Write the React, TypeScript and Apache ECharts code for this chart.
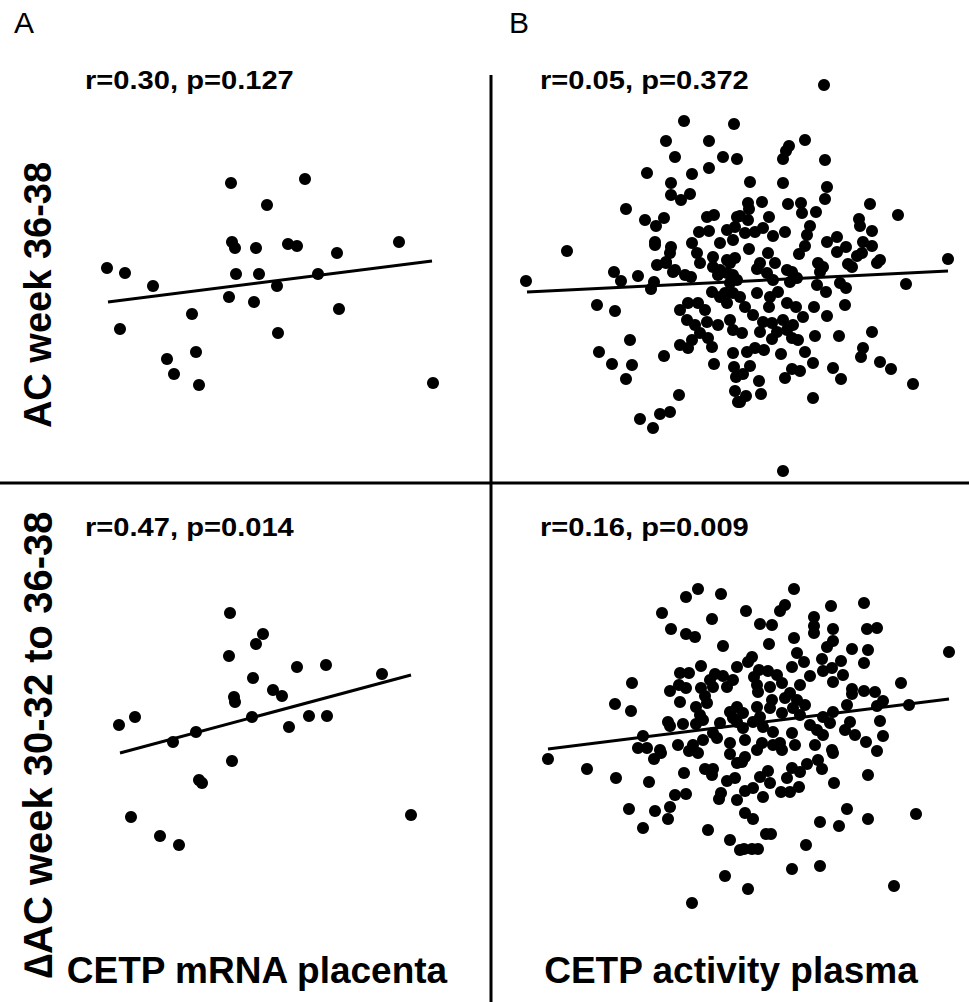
import React, { useEffect, useRef } from "react";
import * as echarts from "echarts";

// Panel A, top: CETP mRNA placenta vs AC week 36-38 (arbitrary units)
const aTopPoints: number[][] = [
  [151, 217], [225, 221], [187, 195], [152, 158], [155, 152], [176, 152], [208, 156], [217, 154],
  [319, 158], [257, 147], [27, 132], [45, 127], [73, 114], [156, 126], [179, 126], [238, 126],
  [197, 114], [149, 103], [174, 98], [259, 91], [112, 86], [40, 71], [198, 67], [116, 48],
  [87, 41], [94, 26], [119, 15], [353, 17],
];
const aTopFit: number[][] = [[28, 98], [352, 139]];

// Panel A, bottom: CETP mRNA placenta vs ΔAC week 30-32 to 36-38
const aBottomPoints: number[][] = [
  [150, 247], [183, 226], [176, 216], [149, 204], [217, 193], [246, 195], [302, 186], [173, 182],
  [193, 170], [202, 164], [154, 163], [155, 158], [39, 135], [55, 143], [172, 143], [229, 144],
  [247, 144], [209, 133], [116, 128], [93, 118], [152, 99], [119, 80], [122, 77], [51, 43],
  [80, 24], [99, 15], [331, 45],
];
const aBottomFit: number[][] = [[40, 107], [331, 185]];

// Panel B, top: CETP activity plasma vs AC week 36-38
const bTopPoints: number[][] = [
  [184, 359], [166, 339], [209, 339], [175, 323], [223, 323], [237, 321], [234, 356], [147, 307],
  [192, 306], [209, 312], [171, 297], [171, 285], [181, 280], [190, 286], [126, 271], [145, 260],
  [156, 254], [164, 262], [207, 263], [214, 265], [67, 229], [199, 248], [209, 249], [155, 238],
  [155, 235], [171, 233], [170, 227], [192, 237], [166, 218], [157, 215], [114, 208], [138, 204],
  [26, 199], [197, 227], [200, 217], [213, 223], [220, 237], [227, 250], [233, 240], [237, 263],
  [220, 210], [230, 217], [173, 208], [185, 205],
  [324, 395], [305, 340], [289, 334], [286, 329], [283, 321], [325, 320], [250, 298], [283, 297],
  [327, 293], [325, 281], [248, 277], [262, 278], [288, 276], [301, 277], [302, 267], [316, 268],
  [370, 276], [398, 265], [240, 264], [249, 271], [269, 263], [248, 260], [359, 261], [360, 254],
  [372, 249], [235, 253], [245, 247], [255, 248], [263, 252], [273, 244], [285, 248], [310, 254],
  [307, 245], [249, 231], [305, 234], [299, 226], [327, 238], [337, 243], [337, 228], [346, 233],
  [363, 238], [372, 234], [362, 227], [357, 224], [268, 227], [260, 217], [275, 217], [257, 211],
  [227, 220], [235, 222], [318, 217], [323, 213], [348, 216], [352, 213], [377, 217], [380, 220],
  [448, 221], [287, 210], [292, 208], [227, 207], [233, 205], [320, 208],
  [121, 199], [166, 217], [175, 210], [191, 203], [213, 213], [218, 205], [154, 198], [151, 191],
  [97, 175], [115, 169], [130, 140], [99, 128], [112, 116], [132, 115], [126, 101], [164, 124],
  [179, 85], [170, 68], [160, 66], [140, 61], [153, 52], [180, 170], [188, 177], [198, 177],
  [187, 160], [195, 155], [205, 170], [207, 158], [200, 147], [192, 140], [208, 142], [180, 135],
  [188, 132], [212, 133], [218, 155], [212, 188], [220, 183], [227, 177], [230, 160], [233, 150],
  [214, 116], [233, 127], [234, 113], [236, 103], [235, 89], [238, 78], [233, 187], [237, 200],
  [406, 196], [317, 195], [326, 188], [346, 192], [340, 197], [345, 175], [314, 173], [327, 164],
  [303, 163], [296, 173], [287, 177], [278, 188], [273, 200], [290, 198], [297, 202], [267, 207],
  [230, 197], [225, 187], [240, 183], [257, 187], [245, 173], [253, 165], [263, 158], [242, 147],
  [260, 148], [272, 157], [277, 148], [272, 141], [283, 160], [287, 150], [292, 142], [298, 140],
  [293, 155], [269, 173], [270, 183], [315, 144], [339, 144], [372, 148], [363, 132], [361, 123],
  [380, 118], [391, 111], [413, 96], [247, 128], [255, 132], [264, 130], [281, 126], [305, 128],
  [313, 117], [333, 112], [341, 101], [292, 111], [300, 109], [285, 102], [250, 114], [243, 106],
  [259, 99], [246, 84], [240, 78], [261, 86], [313, 82], [283, 9],
];
const bTopFit: number[][] = [[27, 188], [448, 209]];

// Panel B, bottom: CETP activity plasma vs ΔAC week 30-32 to 36-38
const bBottomPoints: number[][] = [
  [198, 331], [186, 323], [221, 326], [162, 307], [212, 301], [171, 291], [186, 286], [195, 283],
  [223, 274], [201, 254], [237, 253], [180, 247], [189, 247], [215, 246], [210, 240], [233, 240],
  [132, 237], [179, 235], [186, 232], [170, 229], [201, 232], [213, 233], [227, 233], [205, 224],
  [180, 218], [207, 217], [196, 213], [115, 216], [131, 209], [200, 205], [230, 208], [237, 213],
  [168, 198], [170, 194], [183, 196], [196, 196], [203, 200], [220, 197], [233, 202], [143, 184],
  [213, 187], [230, 177], [203, 180], [178, 175], [193, 175], [138, 172], [147, 172], [160, 170],
  [294, 331], [364, 317], [331, 314], [246, 309], [285, 315], [280, 309], [314, 303], [314, 294],
  [314, 287], [260, 296], [272, 295], [333, 291], [367, 291], [377, 292], [294, 282], [269, 276],
  [333, 279], [327, 273], [352, 271], [368, 270], [449, 268], [252, 263], [248, 258], [297, 267],
  [304, 258], [322, 261], [341, 259], [364, 257], [292, 253], [332, 252], [323, 249], [259, 250],
  [268, 249], [343, 245], [254, 243], [277, 245], [310, 244], [223, 244], [333, 238], [401, 237],
  [282, 237], [300, 235], [257, 235], [270, 233], [352, 231], [352, 226], [364, 229], [375, 228],
  [258, 228], [290, 227], [285, 222], [272, 220], [297, 220], [257, 213], [270, 212], [293, 212],
  [305, 215], [347, 215], [383, 219], [377, 214], [409, 215], [243, 207], [260, 203], [282, 207],
  [300, 205], [333, 208], [323, 203], [237, 198], [253, 198], [310, 195], [330, 197], [350, 198],
  [380, 199], [243, 192], [263, 193], [273, 188], [292, 187], [317, 190], [323, 185], [345, 190],
  [355, 185], [383, 184], [366, 178], [245, 180], [262, 177], [280, 177], [295, 175], [315, 175],
  [332, 170],
  [48, 161], [87, 151], [116, 142], [149, 138], [154, 161], [161, 167], [189, 169], [198, 167],
  [217, 182], [230, 166], [237, 157], [184, 147], [205, 151], [213, 151], [212, 145], [227, 139],
  [235, 142], [175, 125], [186, 126], [221, 127], [219, 121], [237, 120], [129, 111], [155, 109],
  [170, 113], [168, 101], [143, 92], [208, 90], [230, 80], [240, 70], [225, 44], [192, 17],
  [377, 169], [333, 167], [368, 145], [334, 137], [318, 160], [322, 151], [273, 175], [282, 170],
  [257, 170], [245, 163], [242, 158], [260, 143], [268, 149], [270, 137], [253, 132], [245, 129],
  [263, 123], [281, 128], [290, 128], [299, 133], [287, 142], [292, 152], [300, 148], [307, 156],
  [245, 107], [253, 101], [347, 111], [368, 101], [416, 106], [320, 98], [339, 94], [266, 86],
  [271, 86], [244, 71], [252, 71], [258, 71], [306, 75], [292, 51], [320, 54], [248, 31],
  [394, 34],
];
const bBottomFit: number[][] = [[48, 171], [449, 221]];

const statLabels = ["r=0.30, p=0.127", "r=0.05, p=0.372", "r=0.47, p=0.014", "r=0.16, p=0.009"];
const panelLetters = ["A", "B"];
const rowLabels = ["AC week 36-38", "\u2206AC week 30-32 to 36-38"];
const columnLabels = ["CETP mRNA placenta", "CETP activity plasma"];

const FONT = "'Liberation Sans', Arial, sans-serif";

const panels = [
  { grid: { left: 80, top: 160, width: 380, height: 240 }, xMax: 380, yMax: 240, pts: aTopPoints, fit: aTopFit, size: 12 },
  { grid: { left: 500, top: 70, width: 469, height: 410 }, xMax: 469, yMax: 410, pts: bTopPoints, fit: bTopFit, size: 12 },
  { grid: { left: 80, top: 590, width: 360, height: 270 }, xMax: 360, yMax: 270, pts: aBottomPoints, fit: aBottomFit, size: 12 },
  { grid: { left: 500, top: 560, width: 469, height: 360 }, xMax: 469, yMax: 360, pts: bBottomPoints, fit: bBottomFit, size: 12 },
];

export default function App() {
  const ref = useRef<HTMLDivElement>(null);
  useEffect(() => {
    if (!ref.current) return;
    const chart = echarts.init(ref.current, null, { renderer: "svg" });
    const grid = panels.map((p) => ({ ...p.grid, containLabel: false }));
    const xAxis = panels.map((p, i) => ({
      type: "value", gridIndex: i, min: 0, max: p.xMax, show: false,
    }));
    const yAxis = panels.map((p, i) => ({
      type: "value", gridIndex: i, min: 0, max: p.yMax, show: false,
    }));
    const series: any[] = [];
    panels.forEach((p, i) => {
      series.push({
        type: "scatter", xAxisIndex: i, yAxisIndex: i, data: p.pts, symbolSize: p.size,
        itemStyle: { color: "#000", opacity: 1 }, clip: false, silent: true,
      });
      series.push({
        type: "line", xAxisIndex: i, yAxisIndex: i, data: p.fit, showSymbol: false,
        lineStyle: { color: "#000", width: 3 }, clip: false, silent: true, z: 3,
      });
    });
    const statPos = [[85, 80], [540, 80], [85, 527], [540, 527]];
    const graphic: any[] = [
      { type: "line", shape: { x1: 491, y1: 75, x2: 491, y2: 1002 }, style: { stroke: "#000", lineWidth: 3 } },
      { type: "line", shape: { x1: 0, y1: 483, x2: 969, y2: 483 }, style: { stroke: "#000", lineWidth: 3 } },
      ...panelLetters.map((t, i) => ({
        type: "text", x: i === 0 ? 14 : 509, y: 22,
        style: { text: t, fontSize: 30, fontFamily: FONT, fill: "#000", align: "left", verticalAlign: "middle" },
      })),
      ...statLabels.map((t, i) => ({
        type: "text", x: statPos[i][0], y: statPos[i][1], scaleX: 1.12,
        style: { text: t, fontSize: 26, fontWeight: "bold", fontFamily: FONT, fill: "#000", align: "left", verticalAlign: "middle" },
      })),
      ...rowLabels.map((t, i) => ({
        type: "text", x: 38, y: i === 0 ? 295 : 745, rotation: Math.PI / 2,
        style: { text: t, fontSize: i === 0 ? 38 : 40, fontWeight: "bold", fontFamily: FONT, fill: "#000", align: "center", verticalAlign: "middle" },
      })),
      ...columnLabels.map((t, i) => ({
        type: "text", x: i === 0 ? 257 : 731, y: 970,
        style: { text: t, fontSize: 37, fontWeight: "bold", fontFamily: FONT, fill: "#000", align: "center", verticalAlign: "middle" },
      })),
    ];
    chart.setOption({
      animation: false,
      backgroundColor: "#fff",
      grid, xAxis, yAxis, series, graphic,
    });
    return () => chart.dispose();
  }, []);
  return <div ref={ref} style={{ position: "fixed", left: 0, top: 0, width: 969, height: 1002 }} />;
}
